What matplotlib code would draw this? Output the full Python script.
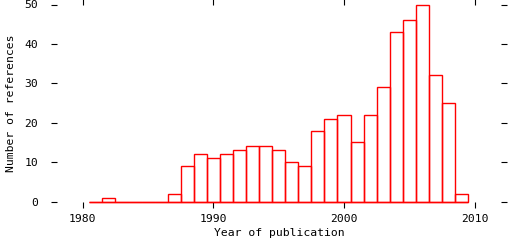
import matplotlib
matplotlib.use('Agg')
from matplotlib import pyplot as plt

# data
years = list(range(1981, 2010))
counts = [0, 1, 0, 0, 0, 0, 2, 9, 12, 11,
          12, 13, 14, 14, 13, 10, 9, 18, 21, 22,
          15, 22, 29, 43, 46, 50, 32, 25, 2]
x_ticks = [1980, 1990, 2000, 2010]
y_ticks = [0, 10, 20, 30, 40, 50]

FONT = 'DejaVu Sans Mono'
FS = 8.2
RED = '#ff0000'

fig = plt.figure(figsize=(5.12, 2.4), dpi=100)
ax = fig.add_axes([56.7/512, 38.5/240, 444/512, 197/240])

bars = ax.bar(years, counts, width=1.0, fill=False, edgecolor=RED, linewidth=1.0)
for b in bars:
    b.set_clip_on(False)
# baseline under the empty years
ax.hlines(0, years[0] - 0.5, years[-1] + 0.5, color=RED, linewidth=1.0, clip_on=False)

ax.set_xlim(1978, 2012)
ax.set_ylim(0, 50)
for s in ax.spines.values():
    s.set_visible(False)

ax.set_xticks(x_ticks)
ax.set_yticks(y_ticks)
ax.tick_params(direction='out', length=4, width=0.8, color='black',
               top=True, right=True, labeltop=False, labelright=False)
ax.tick_params(axis='x', pad=5)
ax.tick_params(axis='y', pad=9.5)
for lab in ax.get_xticklabels() + ax.get_yticklabels():
    lab.set_fontfamily(FONT)
    lab.set_fontsize(FS)

fig.text(279/512, 1 - 233/240, 'Year of publication', family=FONT, fontsize=FS,
         ha='center', va='center')
fig.text(11/512, 1 - 103/240, 'Number of references', family=FONT, fontsize=FS,
         ha='center', va='center', rotation=90)

fig.savefig('out.png', dpi=100)
